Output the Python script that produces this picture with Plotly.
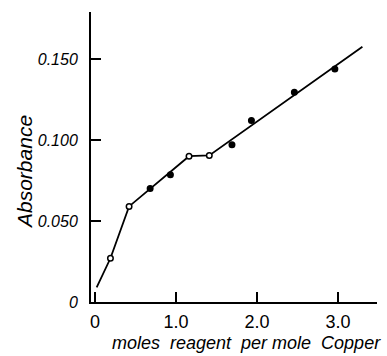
import plotly.graph_objects as go

# measured points: moles reagent per mole Cu vs absorbance
x_pts = [0.19, 0.42, 0.68, 0.93, 1.16, 1.41, 1.69, 1.93, 2.46, 2.96]
y_pts = [0.027, 0.059, 0.070, 0.0785, 0.090, 0.0905, 0.097, 0.112, 0.1295, 0.1438]
open_marker = [True, True, False, False, True, True, False, False, False, False]

# hand-drawn curve
line_x = [0.02, 0.19, 0.42, 1.16, 1.41, 3.30]
line_y = [0.009, 0.027, 0.059, 0.090, 0.0905, 0.1575]

x_ticks = [0, 1.0, 2.0, 3.0]
x_labels = ["0", "1.0", "2.0", "3.0"]
y_ticks = [0, 0.05, 0.10, 0.15]
y_labels = ["0", "0.050", "0.100", "0.150"]

FONT = "Liberation Sans, Arial, sans-serif"

fig = go.Figure()
fig.add_trace(go.Scatter(x=line_x, y=line_y, mode="lines",
                         line=dict(color="black", width=1.8), showlegend=False))
fig.add_trace(go.Scatter(
    x=x_pts, y=y_pts, mode="markers", showlegend=False,
    marker=dict(size=5.5, symbol="circle",
                color=["white" if o else "black" for o in open_marker],
                line=dict(color="black", width=1.5))))

fig.update_layout(
    width=387, height=356,
    margin=dict(l=91, r=10, t=12, b=54),
    paper_bgcolor="white", plot_bgcolor="white",
    font=dict(family=FONT, color="black"),
    xaxis=dict(range=[-0.05, 3.48], tickvals=x_ticks, ticktext=x_labels,
               showgrid=False, zeroline=False, showline=True, linecolor="black",
               linewidth=2, ticks="inside", ticklen=10, tickwidth=1.5, tickcolor="black",
               tickfont=dict(size=18, family=FONT), ticklabelstandoff=2),
    yaxis=dict(range=[0, 0.179], tickvals=y_ticks, ticktext=y_labels,
               showgrid=False, zeroline=False, showline=True, linecolor="black",
               linewidth=2, ticks="inside", ticklen=10, tickwidth=1.5, tickcolor="black",
               tickfont=dict(size=16, family=FONT, style="italic"), ticklabelstandoff=8),
    annotations=[
        dict(text="moles  reagent  per mole  Copper", xref="paper", yref="paper",
             x=(246 - 91) / 286, y=-(343 - 302) / 290, xanchor="center", yanchor="middle",
             showarrow=False, font=dict(size=18, family=FONT, style="italic")),
        dict(text="Absorbance", xref="paper", yref="paper",
             x=-(91 - 24) / 286, y=(302 - 172) / 290, xanchor="center", yanchor="middle",
             textangle=-90, showarrow=False,
             font=dict(size=21, family=FONT, style="italic")),
    ],
)

fig.write_html("out.html")
